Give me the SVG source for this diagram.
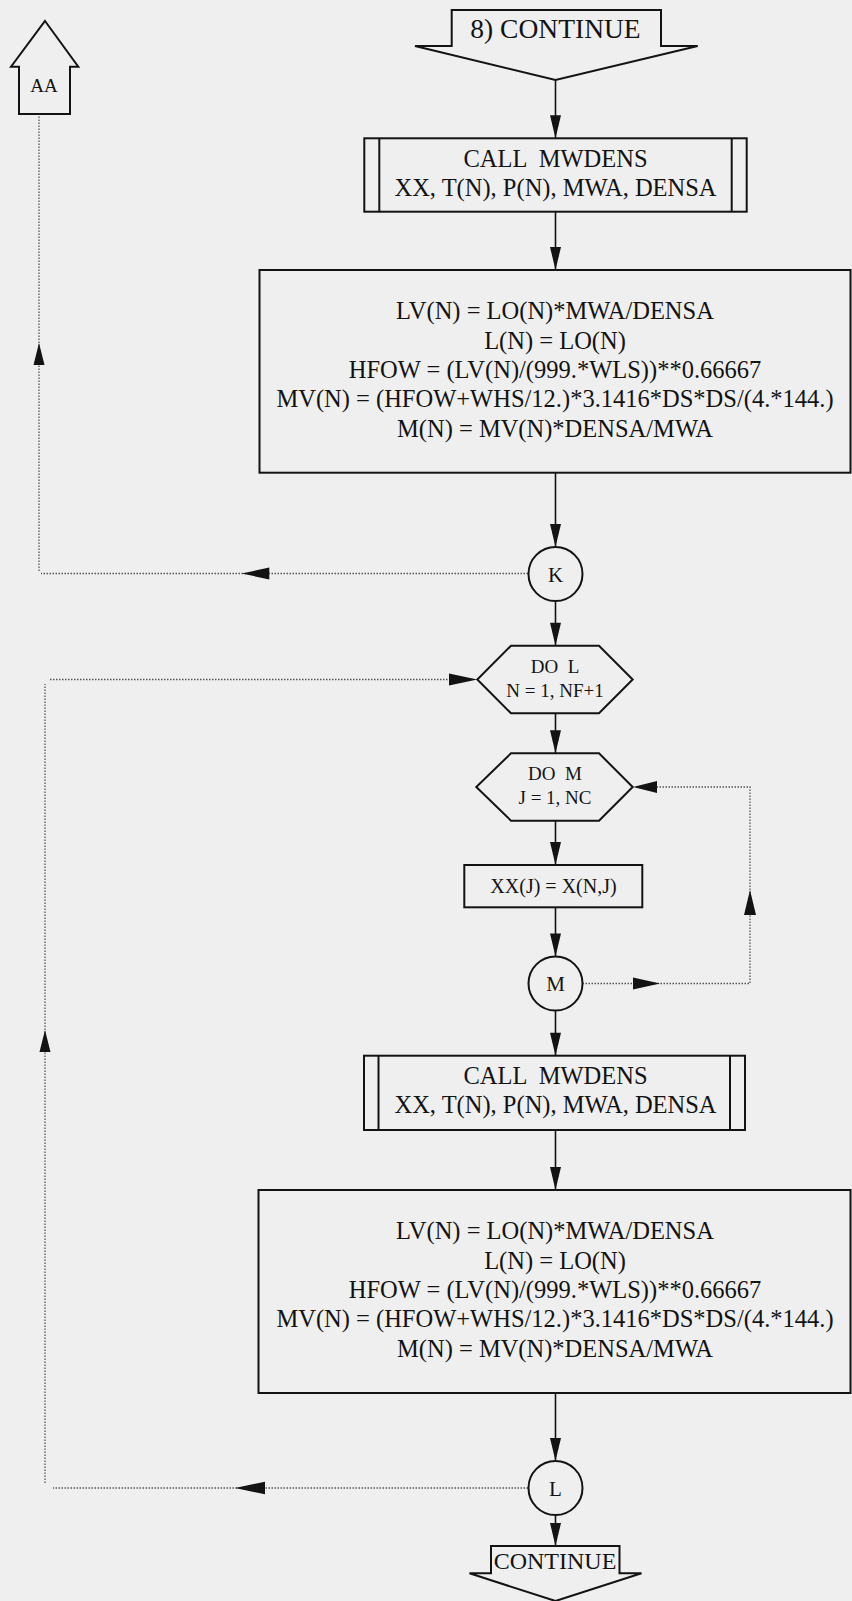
<svg xmlns="http://www.w3.org/2000/svg" width="852" height="1601" viewBox="0 0 852 1601">
<style>
.bg{fill:#efefef}
.shape{fill:none;stroke:#131313;stroke-width:2}
.t{font-family:"Liberation Serif","Times New Roman",serif;fill:#131313;text-anchor:middle}
.big{font-size:24.5px}
.hex{font-size:19px}
.circ{font-size:21px}
.flow{fill:none;stroke:#131313;stroke-width:1.6}
.dot{fill:none;stroke:#555;stroke-width:1.3;stroke-dasharray:1.5 1.5}
.ah{fill:#131313}
</style>
<defs>
<marker id="arr" markerUnits="userSpaceOnUse" markerWidth="24" markerHeight="12" viewBox="0 0 24 12" refX="23" refY="6" orient="auto" overflow="visible">
<path d="M0,0.5 L23,6 L0,11.5 Z" fill="#131313"/>
</marker>
</defs>
<rect class="bg" x="0" y="0" width="852" height="1601"/>

<g id="connectors">
<path class="flow" d="M555.5,80 V138.3" marker-end="url(#arr)"/>
<path class="flow" d="M555.5,211.7 V270" marker-end="url(#arr)"/>
<path class="flow" d="M555.5,472.7 V547" marker-end="url(#arr)"/>
<path class="flow" d="M555.5,601 V645.7" marker-end="url(#arr)"/>
<path class="flow" d="M555.5,713.3 V753.3" marker-end="url(#arr)"/>
<path class="flow" d="M555.5,820.7 V865" marker-end="url(#arr)"/>
<path class="flow" d="M555.5,907.3 V956.5" marker-end="url(#arr)"/>
<path class="flow" d="M555.5,1010.5 V1055.7" marker-end="url(#arr)"/>
<path class="flow" d="M555.5,1130 V1190" marker-end="url(#arr)"/>
<path class="flow" d="M555.5,1393 V1461" marker-end="url(#arr)"/>
<path class="flow" d="M555.5,1515 V1546" marker-end="url(#arr)"/>

<path class="dot" d="M528,573.5 H41"/>
<path class="dot" d="M39,571 V115"/>
<polygon class="ah" points="241.7,573.5 269.3,567.5 269.3,579.5"/>
<polygon class="ah" points="39,343 33.5,365 44.5,365"/>

<path class="dot" d="M528,1488 H53"/>
<path class="dot" d="M45,1483 V684"/>
<path class="dot" d="M50,679.5 H449"/>
<polygon class="ah" points="235,1488 265,1481.7 265,1494.3"/>
<polygon class="ah" points="45,1030 39.5,1052 50.5,1052"/>
<polygon class="ah" points="477.3,679.5 449,673.5 449,685.5"/>

<path class="dot" d="M582.5,983.5 H750 V787 H656"/>
<polygon class="ah" points="660,983.5 633,977.5 633,989.5"/>
<polygon class="ah" points="750,890 744,915 756,915"/>
<polygon class="ah" points="633,787 657,781 657,793"/>
</g>

<g id="aa">
<polygon class="shape" points="45,21 78.3,66.7 70,66.7 70,114 19,114 19,66.7 11,66.7"/>
<text class="t" x="44" y="91.7" style="font-size:19px">AA</text>
</g>

<g id="continue8">
<polygon class="shape" points="451.7,10 661,10 661,46 697.7,46 555.5,80 415,46 451.7,46"/>
<text class="t" x="555.5" y="38.3" style="font-size:27.5px">8) CONTINUE</text>
</g>

<g id="call1">
<rect class="shape" x="364.3" y="138.3" width="382.4" height="73.4"/>
<line class="shape" x1="379.3" y1="138.3" x2="379.3" y2="211.7"/>
<line class="shape" x1="731.7" y1="138.3" x2="731.7" y2="211.7"/>
<text class="t big" x="555.5" y="166.7" xml:space="preserve">CALL  MWDENS</text>
<text class="t big" x="555.5" y="196">XX, T(N), P(N), MWA, DENSA</text>
</g>

<g id="calc1">
<rect class="shape" x="259.5" y="270" width="591" height="202.7"/>
<text class="t big" x="555" y="319.3">LV(N) = LO(N)*MWA/DENSA</text>
<text class="t big" x="555" y="348.7">L(N) = LO(N)</text>
<text class="t big" x="555" y="378">HFOW = (LV(N)/(999.*WLS))**0.66667</text>
<text class="t big" x="555" y="407.3">MV(N) = (HFOW+WHS/12.)*3.1416*DS*DS/(4.*144.)</text>
<text class="t big" x="555" y="436.7">M(N) = MV(N)*DENSA/MWA</text>
</g>

<g id="k">
<circle class="shape" cx="555.5" cy="574" r="27"/>
<text class="t circ" x="555.5" y="581.5">K</text>
</g>

<g id="dol">
<polygon class="shape" points="511,645.7 599,645.7 632.7,679.5 599,713.3 511,713.3 477.3,679.5"/>
<text class="t hex" x="555" y="672.7" xml:space="preserve">DO  L</text>
<text class="t hex" x="555" y="696.7">N = 1, NF+1</text>
</g>

<g id="dom">
<polygon class="shape" points="511,753.3 599,753.3 632.7,787 599,820.7 511,820.7 476.3,787"/>
<text class="t hex" x="555" y="780" xml:space="preserve">DO  M</text>
<text class="t hex" x="555" y="804">J = 1, NC</text>
</g>

<g id="assign">
<rect class="shape" x="464.3" y="865" width="178" height="42.3"/>
<text class="t" x="553.5" y="892.7" style="font-size:20px">XX(J) = X(N,J)</text>
</g>

<g id="m">
<circle class="shape" cx="555.5" cy="983.5" r="27"/>
<text class="t circ" x="555.5" y="991">M</text>
</g>

<g id="call2">
<rect class="shape" x="364" y="1055.7" width="381" height="74.3"/>
<line class="shape" x1="378.5" y1="1055.7" x2="378.5" y2="1130"/>
<line class="shape" x1="730" y1="1055.7" x2="730" y2="1130"/>
<text class="t big" x="555.5" y="1084" xml:space="preserve">CALL  MWDENS</text>
<text class="t big" x="555.5" y="1113.4">XX, T(N), P(N), MWA, DENSA</text>
</g>

<g id="calc2">
<rect class="shape" x="258.5" y="1190" width="592" height="203"/>
<text class="t big" x="555" y="1239.3">LV(N) = LO(N)*MWA/DENSA</text>
<text class="t big" x="555" y="1268.7">L(N) = LO(N)</text>
<text class="t big" x="555" y="1298">HFOW = (LV(N)/(999.*WLS))**0.66667</text>
<text class="t big" x="555" y="1327.3">MV(N) = (HFOW+WHS/12.)*3.1416*DS*DS/(4.*144.)</text>
<text class="t big" x="555" y="1356.7">M(N) = MV(N)*DENSA/MWA</text>
</g>

<g id="l">
<circle class="shape" cx="555.5" cy="1488" r="27"/>
<text class="t circ" x="555.5" y="1495.5">L</text>
</g>

<g id="continue">
<polygon class="shape" points="491,1546 619.5,1546 619.5,1573.3 641.5,1573.3 555.5,1601 469.5,1573.3 491,1573.3"/>
<text class="t" x="555" y="1569.3" style="font-size:24px">CONTINUE</text>
</g>
</svg>
